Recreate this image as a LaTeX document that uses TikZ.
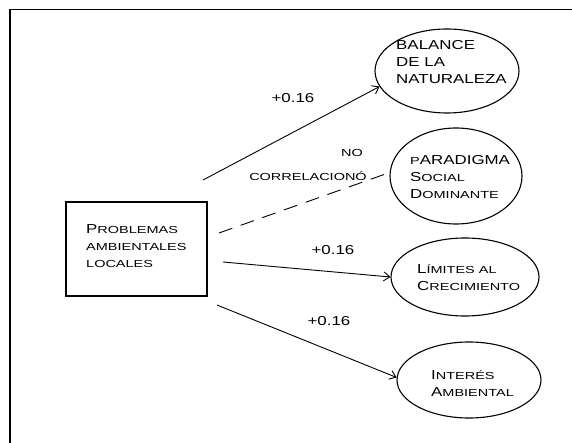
\documentclass[tikz,border=0pt]{standalone}
\usepackage{fontspec}
\usetikzlibrary{shapes.geometric,arrows.meta}
\newfontfamily\capsfont[FakeStretch=1.3]{Liberation Sans}
\newfontfamily\smcapsfont[FakeStretch=1.42]{Liberation Sans}
% full-size capitals and small capitals of a copperplate-like face
\newcommand\BC[1]{{\capsfont\fontsize{13}{17}\selectfont #1}}
\newcommand\SC[1]{{\smcapsfont\fontsize{10.2}{17}\selectfont #1}}
\tikzset{
  factor/.style={draw, ellipse, line width=1.1pt, inner sep=0pt},
  txt/.style={align=left, anchor=west, inner sep=0pt, font=\fontsize{10.2}{17}\selectfont},
  lbl/.style={inner sep=0pt},
  rel/.style={line width=0.9pt, -{Straight Barb[length=6pt,width=9pt]}},
  nocorr/.style={line width=0.9pt, dash pattern=on 14pt off 9pt}
}
\begin{document}
\begin{tikzpicture}[x=1pt, y=-1pt]
\useasboundingbox (0,0) rectangle (572,443);
% frame
\draw[line width=1.2pt] (10,443) -- (10,9.5) -- (572,9.5);

% source box
\node[draw, line width=1.1pt, minimum width=141pt, minimum height=94pt, inner sep=0pt] (src) at (136.5,249) {};
\node[txt] (srct) at (86,246) {\BC{P}\SC{ROBLEMAS}\\\SC{AMBIENTALES}\\\SC{LOCALES}};

% factors
\node[factor, minimum width=144pt, minimum height=84pt] (e1) at (447,71) {};
\node[txt] (e1t) at (396,62) {\BC{BALANCE}\\\BC{DE LA}\\\BC{NATURALEZA}};

\node[factor, minimum width=132pt, minimum height=96pt] (e2) at (456,176) {};
\node[txt] (e2t) at (410,177) {\SC{P}\BC{ARADIGMA}\\\BC{S}\SC{OCIAL}\\\BC{D}\SC{OMINANTE}};

\node[factor, minimum width=148pt, minimum height=78pt] (e3) at (465,277) {};
\node[txt] (e3t) at (417,278) {\BC{L}\SC{ÍMITES AL}\\\BC{C}\SC{RECIMIENTO}};

\node[factor, minimum width=144pt, minimum height=76pt] (e4) at (469,380) {};
\node[txt] (e4t) at (431,384) {\BC{I}\SC{NTERÉS}\\\BC{A}\SC{MBIENTAL}};

% connector start points
\coordinate (s1) at (203,180);
\coordinate (s2) at (219,233);
\coordinate (s3) at (223,262);
\coordinate (s4) at (217,305);

\draw[rel] (s1) -- (e1.193);
\draw[nocorr] (s2) -- (e2.177);
\draw[rel] (s3) -- (e3.180);
\draw[rel] (s4) -- (e4.178);

% coefficients
\node[lbl] (l1) at (293,98) {\BC{+0.16}};
\node[lbl] (l2a) at (352,153) {\SC{NO}};
\node[lbl] (l2b) at (308,176) {\SC{CORRELACIONÓ}};
\node[lbl] (l3) at (333,250) {\BC{+0.16}};
\node[lbl] (l4) at (329,321) {\BC{+0.16}};
\end{tikzpicture}
\end{document}
